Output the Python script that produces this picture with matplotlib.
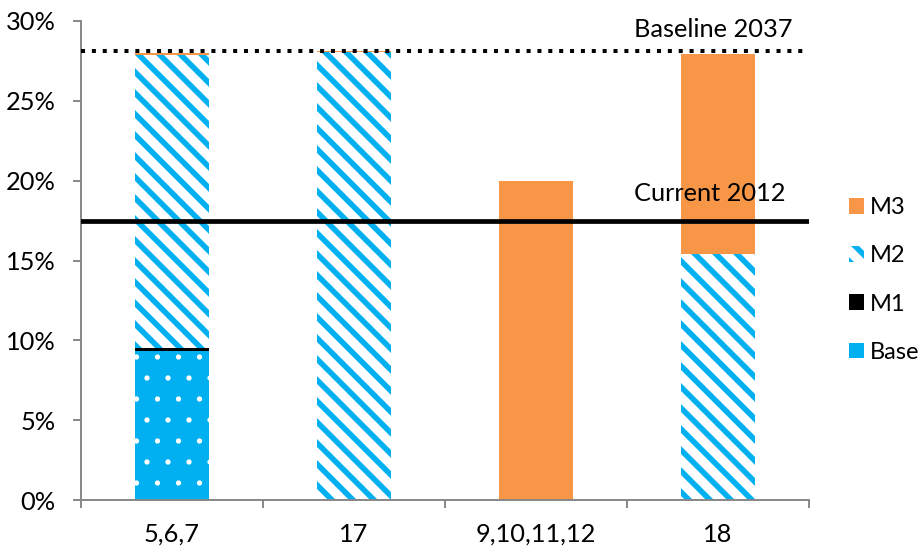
#!/usr/bin/env python3
"""Stacked bars of measure shares per group, with 2012 and 2037 reference lines."""

import matplotlib
matplotlib.use("Agg")
import matplotlib.pyplot as plt
from matplotlib.patches import Patch
from matplotlib.ticker import FuncFormatter, FixedLocator
import numpy as np

# ---- data (percent) ----
categories = ["5,6,7", "17", "9,10,11,12", "18"]
base = np.array([9.35, 0.0, 0.0, 0.0])
m1 = np.array([0.20, 0.0, 0.0, 0.0])
m2 = np.array([18.35, 28.05, 0.0, 15.40])
m3 = np.array([0.10, 0.05, 20.0, 12.55])

current_2012 = 17.5
baseline_2037 = 28.1

BLUE = "#00B0F0"
ORANGE = "#F79646"
AXIS_GREY = "#868686"
DPI = 126

plt.rcParams["font.family"] = ["Lato", "DejaVu Sans"]
plt.rcParams["font.size"] = 14.5


def hatch_lw(bars, lw):
    for b in bars:
        if hasattr(b, "set_hatch_linewidth"):
            b.set_hatch_linewidth(lw)


fig = plt.figure(figsize=(924 / DPI, 551 / DPI), dpi=DPI)
ax = fig.add_axes([81 / 924, 1 - 500 / 551, 728 / 924, 479 / 551])

x = np.arange(len(categories))
w = 0.41

plt.rcParams["hatch.linewidth"] = 0.6
b_base = ax.bar(x, base, w, color=BLUE, edgecolor="white", linewidth=0,
                hatch=".")
hatch_lw(b_base, 0.6)
b_m1 = ax.bar(x, m1, w, bottom=base, color="black", linewidth=0)
plt.rcParams["hatch.linewidth"] = 3.2
b_m2 = ax.bar(x, m2, w, bottom=base + m1, color="white", edgecolor=BLUE,
              linewidth=0, hatch="\\\\")
hatch_lw(b_m2, 3.2)
b_m3 = ax.bar(x, m3, w, bottom=base + m1 + m2, color=ORANGE, linewidth=0)

# reference lines
ax.axhline(current_2012, color="black", lw=2.7, zorder=3)
ax.axhline(baseline_2037, color="black", lw=2.3, linestyle=(0, (1, 1.7)),
           dash_capstyle="butt", zorder=3)
ax.text(2.538, 18.7, "Current 2012", va="baseline", ha="left")
ax.text(2.538, 29.0, "Baseline 2037", va="baseline", ha="left")

# axes styling
ax.set_xlim(-0.5, len(categories) - 0.5)
ax.set_ylim(0, 30)
ax.set_yticks(np.arange(0, 31, 5))
ax.yaxis.set_major_formatter(FuncFormatter(lambda v, _: f"{v:.0f}%"))
ax.set_xticks(x)
ax.set_xticklabels(categories)
ax.xaxis.set_minor_locator(FixedLocator(np.arange(-0.5, len(categories), 1.0)))
ax.tick_params(axis="x", which="major", length=0, pad=13)
ax.tick_params(axis="x", which="minor", length=4.5, width=1.1, color=AXIS_GREY)
ax.tick_params(axis="y", length=4.5, width=1.1, color=AXIS_GREY, pad=10)
for side in ("top", "right"):
    ax.spines[side].set_visible(False)
for side in ("left", "bottom"):
    ax.spines[side].set_color(AXIS_GREY)
    ax.spines[side].set_linewidth(1.1)

# legend, top series first
handles = [
    Patch(facecolor=ORANGE, linewidth=0, label="M3"),
    Patch(facecolor="white", edgecolor=BLUE, linewidth=0, hatch="\\\\", label="M2"),
    Patch(facecolor="black", linewidth=0, label="M1"),
    Patch(facecolor=BLUE, linewidth=0, label="Base"),
]
fig.legend(handles=handles, loc="center left", fontsize=13.5,
           bbox_to_anchor=(849 / 924, 1 - 280 / 551), frameon=False,
           borderpad=0, borderaxespad=0, handlelength=0.65, handleheight=0.65,
           handletextpad=0.25, labelspacing=1.15)

fig.savefig("out.png", dpi=DPI)
plt.close(fig)
